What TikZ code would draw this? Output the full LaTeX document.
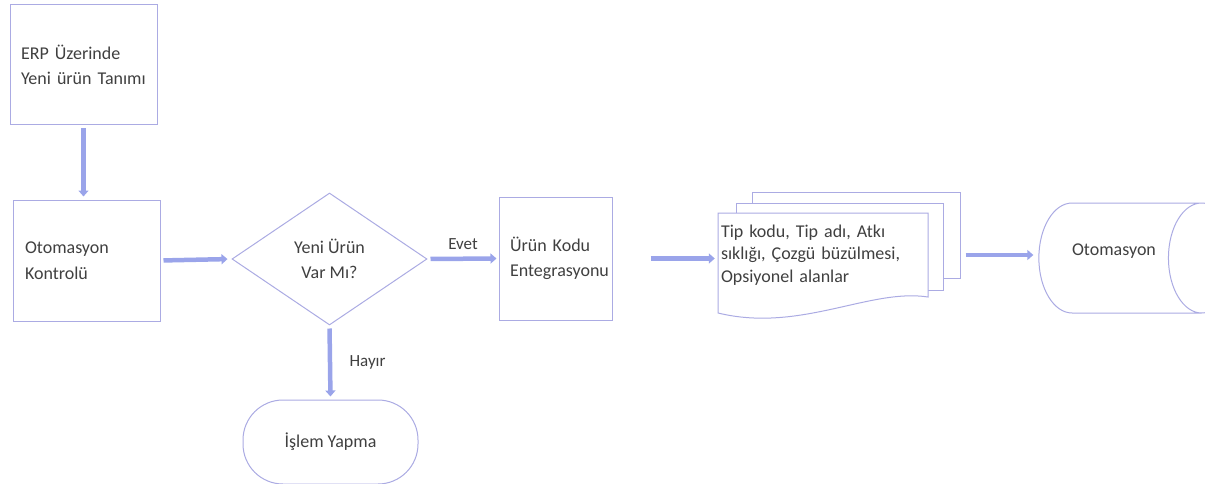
\documentclass[tikz,border=0pt]{standalone}
\usepackage{fontspec}
\setmainfont{Carlito}
\usetikzlibrary{shapes.geometric,arrows.meta}
\definecolor{lineclr}{HTML}{ABABE3}
\definecolor{arrowclr}{HTML}{9AA4EA}
\definecolor{txtclr}{HTML}{404040}
\tikzset{
  box/.style={draw=lineclr,line width=1pt,fill=white,text=txtclr,align=left,
    inner xsep=11pt,font=\fontsize{18}{25.5}\selectfont},
  flow/.style={draw=arrowclr,line width=4.5pt,-{Triangle[width=10pt,length=6pt]}},
  lbl/.style={text=txtclr,font=\fontsize{17}{20}\selectfont},
}
\begin{document}
\begin{tikzpicture}[x=1pt,y=-1pt]
\useasboundingbox (0,0) rectangle (1205,484);
% left column
\node[box,minimum width=147,minimum height=120,text width=125] (erp) at (83.5,65) {ERP Üzerinde\\Yeni ürün Tanımı};
\node[box,minimum width=147,minimum height=121,text width=123,inner xsep=12pt] (kontrol) at (86.5,260.5) {Otomasyon\\Kontrolü};
% decision
\node[box,diamond,minimum width=195,minimum height=132,inner sep=0pt,align=center] (karar) at (329.5,259) {Yeni Ürün\\Var Mı?};
\node[box,minimum width=113,minimum height=123,text width=91] (urun) at (555.5,258.5) {Ürün Kodu\\Entegrasyonu};
\node[box,rounded corners=40pt,minimum width=175,minimum height=84,align=center] (islem) at (330.5,442) {İşlem Yapma};
% stacked documents
\node[box,minimum width=208,minimum height=86] (sayfa3) at (856,235) {};
\node[box,minimum width=207,minimum height=87] (sayfa2) at (839.5,246.5) {};
\draw[lineclr,line width=1pt,fill=white] (718,213) -- (928,213) -- (928,297)
  .. controls (870,288) and (800,333) .. (718,313) -- cycle;
\node[lbl,text width=204,inner xsep=3pt,align=left,minimum height=84,
  font=\fontsize{18}{22.5}\selectfont] (veri) at (823,255)
  {Tip kodu, Tip adı, Atkı\\sıklığı, Çozgü büzülmesi,\\Opsiyonel alanlar};
% storage
\node[box,cylinder,minimum width=110,minimum height=196,shape aspect=2.4,inner sep=0pt,align=center] (oto) at (1120,258) {\raisebox{16pt}{Otomasyon\hspace*{12pt}}};
% connectors
\draw[flow,shorten <=3pt,shorten >=3pt] (erp.south) -- (erp.south |- kontrol.north);
\draw[flow,shorten <=3pt,shorten >=4pt] (kontrol.east) -- (karar.west);
\draw[flow,shorten <=3pt,shorten >=2pt] (karar.east) -- node[lbl,above=4pt] (evet) {Evet} (urun.west);
\draw[flow,shorten <=3pt,shorten >=3pt] (karar.south) -- node[lbl,right=14pt] (hayir) {Hayır} (islem.north);
\draw[flow,shorten <=38pt,shorten >=3pt] (urun.east) -- (urun.east -| veri.west);
\draw[flow,shorten <=5pt,shorten >=5pt] (veri.east -| sayfa3.east) -- (veri.east -| oto.west);
\end{tikzpicture}
\end{document}
